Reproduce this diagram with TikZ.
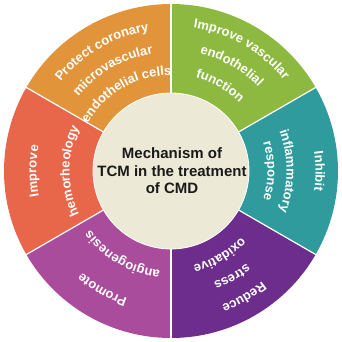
\documentclass[tikz,border=0pt]{standalone}
\usepackage{fontspec}
\setmainfont{Liberation Sans}
\usetikzlibrary{decorations.text}
\definecolor{cOrange}{HTML}{E2943A}
\definecolor{cGreen}{HTML}{8DB940}
\definecolor{cTeal}{HTML}{2F9B9C}
\definecolor{cPurple}{HTML}{6C2D8C}
\definecolor{cMagenta}{HTML}{AA4C9C}
\definecolor{cRed}{HTML}{E8664A}
\definecolor{cBeige}{HTML}{ECE9D6}
\definecolor{cInk}{HTML}{1A1A1A}
\tikzset{
  sectortext/.style={decorate, decoration={text along path, text align=center, text color=white,
      text={|\bfseries\fontsize{13}{15}\selectfont|#1}}},
  sepline/.style={draw=white, line width=1.2pt},
}
\newcommand\arctext[3]{%
  \path[sectortext={#3}] ({#1+50}:{#2}) arc[start angle={#1+50}, end angle={#1-50}, radius={#2}];}
\newcommand\sector[3]{%
  \fill[#3] (0,0) -- ({#1}:167) arc[start angle={#1}, end angle={#2}, radius=167] -- cycle;}
\begin{document}
\begin{tikzpicture}[x=1pt,y=1pt]
\useasboundingbox (-171,-171) rectangle (171,171);
% sectors
\sector{90}{150}{cOrange}
\sector{30}{90}{cGreen}
\sector{-30}{30}{cTeal}
\sector{-90}{-30}{cPurple}
\sector{210}{270}{cMagenta}
\sector{150}{210}{cRed}
% separators
\foreach \a in {90,30,-30,-90,210,150}
  \draw[sepline] (\a:70) -- (\a:167.5);
% center circle
\fill[cBeige, draw=white, line width=0.8pt] (0,0) circle[radius=78];
\node[align=center, text=cInk, font=\bfseries\fontsize{15}{17.5}\selectfont] (center) at (1,0)
  {Mechanism of\\TCM in the treatment\\of CMD};
% orange
\arctext{120}{141.7}{Protect coronary}
\arctext{120}{118.7}{microvascular}
\arctext{120}{95.7}{endothelial cells}
% green
\arctext{60}{145}{Improve vascular}
\arctext{60}{121}{endothelial}
\arctext{60}{96.5}{function}
% teal
\arctext{0}{144.5}{Inhibit}
\arctext{0}{115.5}{inflammatory}
\arctext{0}{96.5}{response}
% purple
\arctext{-60}{143.5}{Reduce}
\arctext{-60}{119.5}{stress}
\arctext{-60}{96.5}{oxidative}
% magenta
\arctext{240}{135}{Promote}
\arctext{240}{100}{angiogenesis}
% red
\arctext{180}{134.5}{Improve}
\arctext{180}{101.5}{hemorheology}
\end{tikzpicture}
\end{document}
